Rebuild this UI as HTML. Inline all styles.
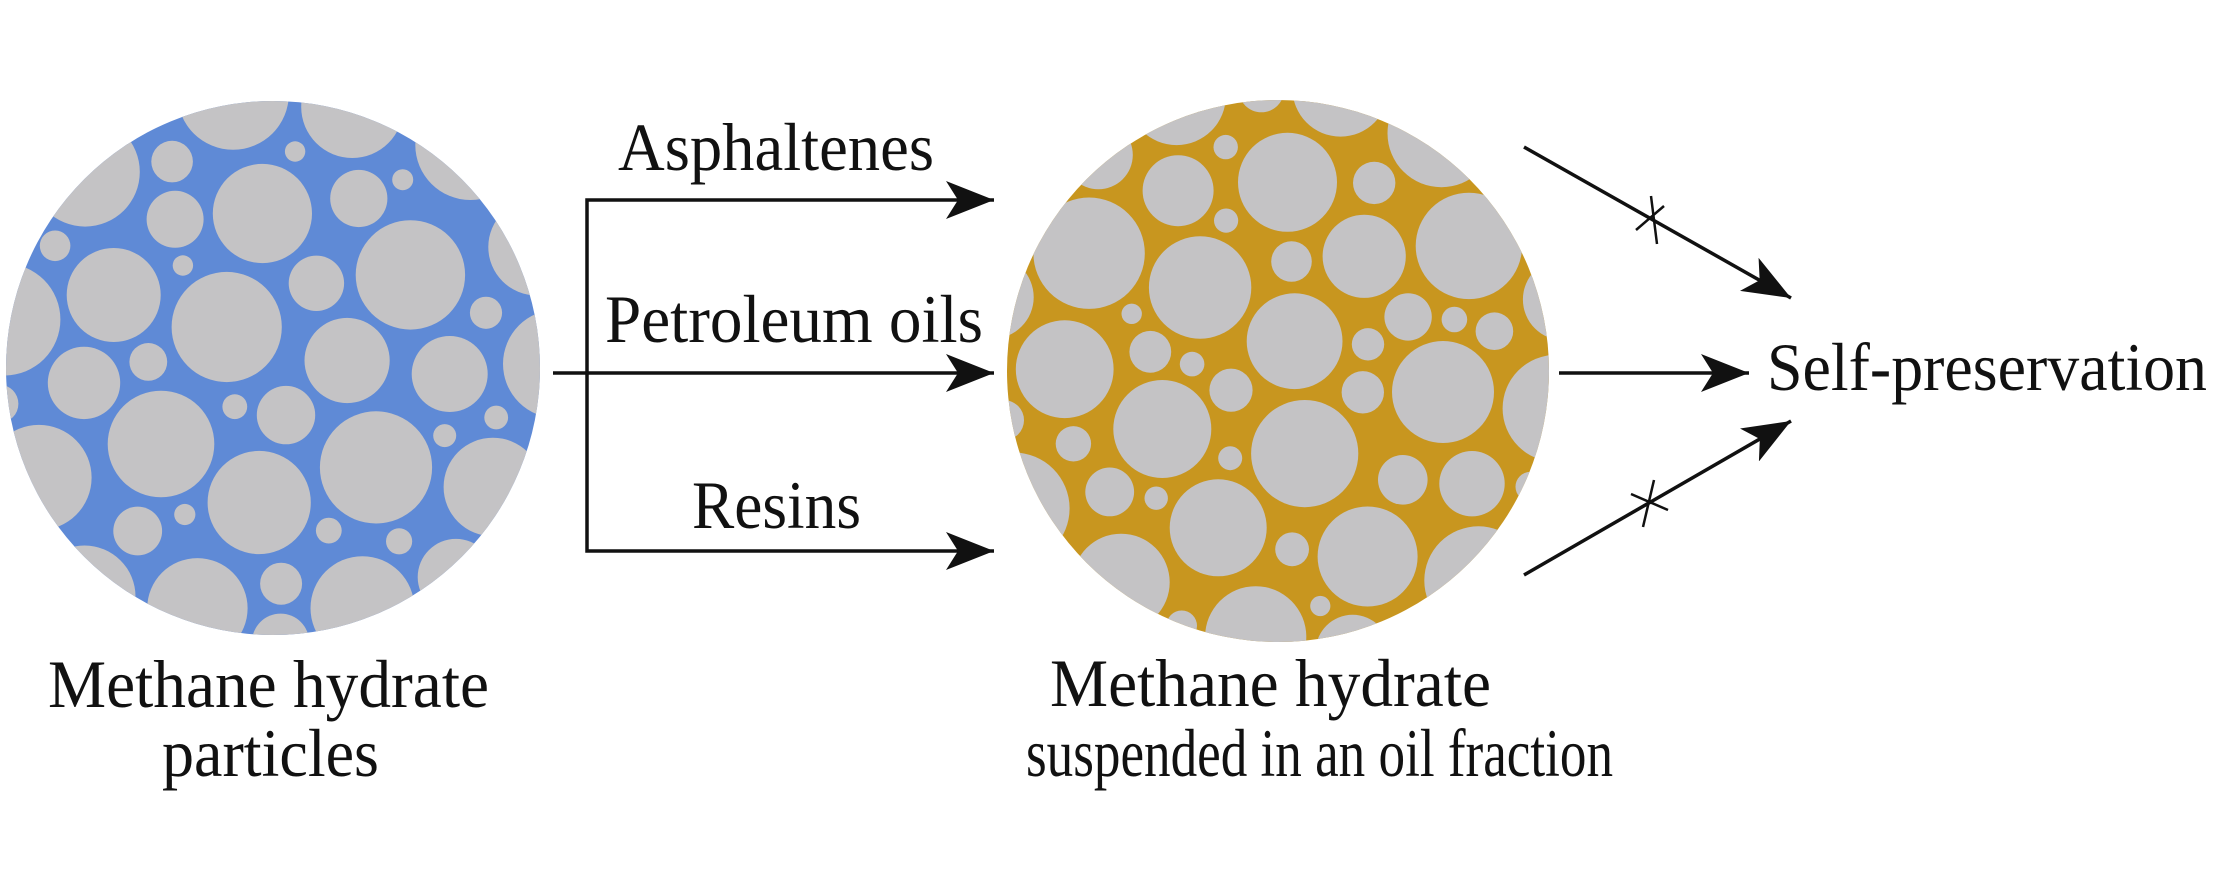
<!DOCTYPE html>
<html><head><meta charset="utf-8"><style>
html,body{margin:0;padding:0;background:#fff;width:2213px;height:886px;overflow:hidden}
svg{display:block}
text{font-family:"Liberation Serif",serif;font-size:68px;fill:#111}
</style></head><body>
<svg id="s" width="2213" height="886" viewBox="0 0 2213 886" xmlns="http://www.w3.org/2000/svg">
<defs>
<clipPath id="c1"><circle cx="273" cy="368" r="267"/></clipPath>
<clipPath id="c2"><circle cx="1278" cy="371" r="271"/></clipPath>
<marker id="ah" markerWidth="50" markerHeight="38" refX="48" refY="19" orient="auto" markerUnits="userSpaceOnUse">
<path d="M0,0 L48,19 L0,38 L12,19 Z" fill="#111"/></marker>
</defs>
<circle cx="273" cy="368" r="267" fill="#5f8ad6"/>
<g id="g1" clip-path="url(#c1)"></g>
<circle cx="1278" cy="371" r="271" fill="#c8961f"/>
<g id="g2" clip-path="url(#c2)"></g>
<g stroke="#111" stroke-width="3.5" fill="none">
<path d="M994,200 L587,200 L587,551 L994,551" marker-end="url(#ah)"/>
<line x1="553" y1="373" x2="994" y2="373" marker-end="url(#ah)"/>
<line x1="1559" y1="373" x2="1749" y2="373" marker-end="url(#ah)"/>
<line x1="1524" y1="147" x2="1791" y2="298" marker-end="url(#ah)"/>
<line x1="1524" y1="575" x2="1791" y2="421" marker-end="url(#ah)"/>
<line x1="1636" y1="230" x2="1664" y2="206" stroke-width="2.5"/>
<line x1="1651" y1="196" x2="1657" y2="244" stroke-width="2.5"/>
<line x1="1631" y1="494" x2="1668" y2="510" stroke-width="2.5"/>
<line x1="1654" y1="480" x2="1643" y2="527" stroke-width="2.5"/>
</g>
<path d="M994,200 L946,181 L958,200 L946,219 Z" fill="#111"/>
<text x="618" y="170" textLength="316" lengthAdjust="spacingAndGlyphs">Asphaltenes</text>
<text x="605" y="342" textLength="378" lengthAdjust="spacingAndGlyphs">Petroleum oils</text>
<text x="692" y="528" textLength="169" lengthAdjust="spacingAndGlyphs">Resins</text>
<text x="1767" y="390" textLength="440" lengthAdjust="spacingAndGlyphs">Self-preservation</text>
<text x="48" y="707" textLength="441" lengthAdjust="spacingAndGlyphs">Methane hydrate</text>
<text x="162" y="776" textLength="217" lengthAdjust="spacingAndGlyphs">particles</text>
<text x="1050" y="706" textLength="441" lengthAdjust="spacingAndGlyphs">Methane hydrate</text>
<text x="1026" y="776" textLength="587" lengthAdjust="spacingAndGlyphs">suspended in an oil fraction</text>
</svg>
<script>
function fill(id,cx,cy,R,seed){
  var s=seed;function rnd(){s=(s*1103515245+12345)%2147483648;return s/2147483648;}
  var g=document.getElementById(id),cs=[],ns="http://www.w3.org/2000/svg";
  var sizes=[52,46,40,35,30,26,22,19,16,13,11];
  for(var k=0;k<sizes.length;k++){
    for(var t=0;t<5000;t++){
      var r=sizes[k]*(0.92+0.16*rnd());
      var x=cx-R-20+rnd()*(2*R+40),y=cy-R-20+rnd()*(2*R+40);
      if(Math.hypot(x-cx,y-cy)>R+r*0.6)continue;
      var ok=true;
      for(var i=0;i<cs.length;i++){var c=cs[i];if(Math.hypot(c[0]-x,c[1]-y)<c[2]+r+8){ok=false;break;}}
      if(ok)cs.push([x,y,r]);
    }
  }
  cs.forEach(function(c){var e=document.createElementNS(ns,"circle");e.setAttribute("cx",c[0].toFixed(1));e.setAttribute("cy",c[1].toFixed(1));e.setAttribute("r",c[2].toFixed(1));e.setAttribute("fill","#c4c3c5");g.appendChild(e);});
}
fill("g1",273,368,267,12345);
fill("g2",1278,371,271,67891);
</script>
</body></html>
